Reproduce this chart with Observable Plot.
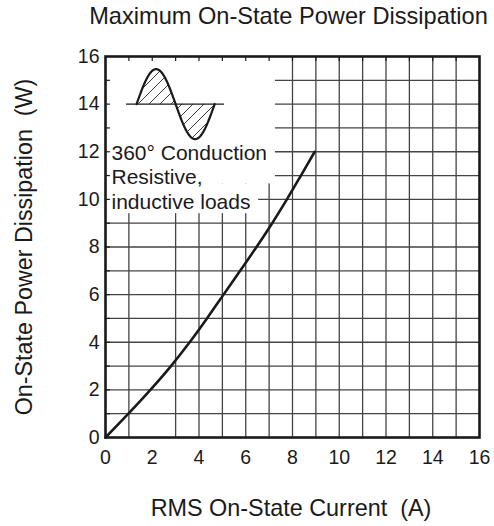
<!DOCTYPE html>
<html>
<head>
<meta charset="utf-8">
<script src="https://cdn.jsdelivr.net/npm/d3@7"></script>
<script src="https://cdn.jsdelivr.net/npm/@observablehq/plot@0.6"></script>
<style>
  html, body { margin: 0; padding: 0; background: #fff; }
  svg text { white-space: pre; }
</style>
</head>
<body>
<div id="chart"></div>
<script>
// ---- data ----
const rmsCurrent = [0, 0.98, 1.92, 2.8, 3.6, 4.34, 5.05, 5.76, 6.46, 7.13, 7.76, 8.36, 8.95]; // A
const powerDiss  = [0, 1, 2, 3, 4, 5, 6, 7, 8, 9, 10, 11, 12];                                // W
const xTickLabels = [0, 2, 4, 6, 8, 10, 12, 14, 16];
const yTickLabels = [0, 2, 4, 6, 8, 10, 12, 14, 16];
const gridXTicks = [1, 3, 4, 5, 6, 7, 8, 9, 10, 11, 12, 13, 14, 15]; // x=2 line absent in original
const gridYTicks = [1, 2, 3, 4, 5, 6, 7, 8, 9, 10, 11, 12, 13, 14, 15];
const frameTicks = [1, 2, 3, 4, 5, 6, 7, 8, 9, 10, 11, 12, 13, 14, 15];
const titleText = "Maximum On-State Power Dissipation";
const xLabel = "RMS On-State Current  (A)";
const yLabel = "On-State Power Dissipation  (W)";
const insetLines = ["360° Conduction", "Resistive,", "inductive loads"];

const curveData = rmsCurrent.map((c, i) => ({current: c, power: powerDiss[i]}));

// inset (legend box) geometry in data units
const insetBoxes = [
  {x1: 0, x2: 7.27, y1: 10.65, y2: 16},
  {x1: 0, x2: 6.55, y1: 9.4, y2: 10.65}
];
const wave = {x0: 1.33, x1: 4.67, base0: 0.9, base1: 5.09, mid: 14, amp: 1.47};
const iconWave = d3.range(0, 1.0001, 0.01).map(t => ({
  x: wave.x0 + t * (wave.x1 - wave.x0),
  y: wave.mid + wave.amp * Math.sin(2 * Math.PI * t)
}));

const font = "'Liberation Sans', Arial, Helvetica, sans-serif";
const ink = "#1a1a1a";
const gridColor = "#444";

const svg = Plot.plot({
  width: 494,
  height: 526,
  marginLeft: 105,
  marginRight: 15,
  marginTop: 56,
  marginBottom: 89,
  style: {fontFamily: font, color: ink, background: "#fff"},
  x: {domain: [0, 16]},
  y: {domain: [0, 16]},
  marks: [
    Plot.gridX(gridXTicks, {stroke: gridColor, strokeOpacity: 1, strokeWidth: 1.3}),
    Plot.gridY(gridYTicks, {stroke: gridColor, strokeOpacity: 1, strokeWidth: 1.3}),
    Plot.rect(insetBoxes, {x1: "x1", x2: "x2", y1: "y1", y2: "y2", fill: "white"}),
    // inward frame ticks (visible inside the inset)
    Plot.ruleX(frameTicks, {x: d => d, y1: 16, y2: 15.79, stroke: ink, strokeWidth: 1.2}),
    Plot.ruleY(frameTicks, {y: d => d, x1: 0, x2: 0.21, stroke: ink, strokeWidth: 1.2}),
    // inset icon
    Plot.areaY(iconWave, {x: "x", y1: wave.mid, y2: "y", fill: "url(#hatch)"}),
    Plot.ruleY([wave.mid], {x1: wave.base0, x2: wave.base1, stroke: ink, strokeWidth: 1.4}),
    Plot.line(iconWave, {x: "x", y: "y", stroke: ink, strokeWidth: 2.2}),
    // inset text
    Plot.text([insetLines.join("\n")], {
      frameAnchor: "top-left", dx: 6, dy: 85.7, lineAnchor: "top",
      lineHeight: 1.167, textAnchor: "start", fontSize: 21, fill: ink
    }),
    Plot.frame({stroke: ink, strokeWidth: 2.6}),
    Plot.line(curveData, {x: "current", y: "power", curve: "catmull-rom", stroke: ink, strokeWidth: 2.6}),
    Plot.axisX({ticks: xTickLabels, tickSize: 0, tickPadding: 13, fontSize: 19.5, label: null, fill: ink}),
    Plot.axisY({ticks: yTickLabels, tickSize: 0, tickPadding: 6, fontSize: 19.5, label: null, fill: ink}),
    Plot.text([titleText], {frameAnchor: "top", dx: -4, dy: -40.2, lineAnchor: "middle", textAnchor: "middle", fontSize: 23.6, fill: ink}),
    Plot.text([xLabel], {frameAnchor: "bottom", dx: -1.5, dy: 70.5, lineAnchor: "middle", textAnchor: "middle", fontSize: 23.4, fill: ink}),
    Plot.text([yLabel], {frameAnchor: "left", dx: -80.8, dy: 0, rotate: -90, lineAnchor: "middle", textAnchor: "middle", fontSize: 23.3, fill: ink})
  ]
});

d3.select(svg).insert("defs", ":first-child").html(
  '<pattern id="hatch" patternUnits="userSpaceOnUse" width="11" height="11">' +
  '<path d="M-1,1 l2,-2 M0,11 l11,-11 M10,12 l2,-2" stroke="#222" stroke-width="0.9"/></pattern>'
);

document.getElementById("chart").appendChild(svg);
</script>
</body>
</html>
